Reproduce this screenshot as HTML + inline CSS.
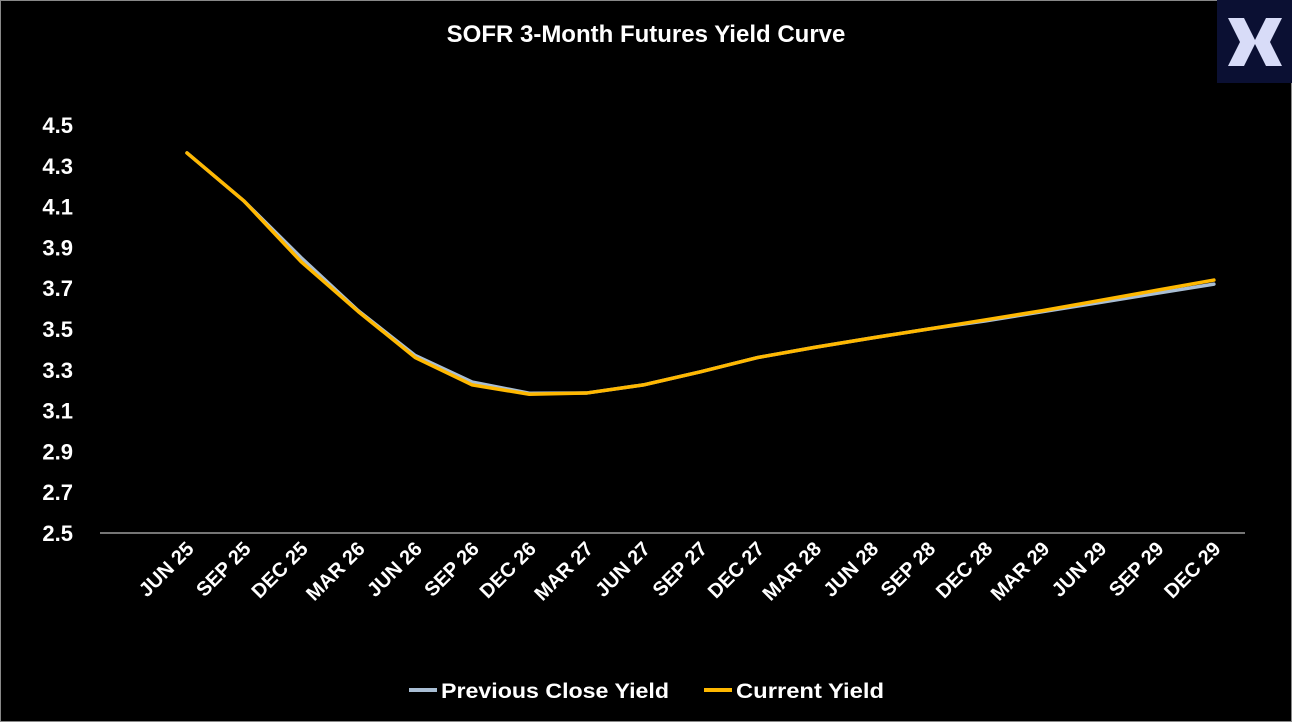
<!DOCTYPE html>
<html><head><meta charset="utf-8"><style>
body{margin:0;background:#000;}
svg{display:block;font-family:"Liberation Sans",sans-serif;font-weight:bold;}
</style></head><body>
<svg width="1292" height="722">
<rect x="0" y="0" width="1292" height="722" fill="#000"/>
<rect x="0.5" y="0.5" width="1291" height="721" fill="none" stroke="#888"/>
<text x="646" y="42" text-anchor="middle" fill="#fff" font-size="24">SOFR 3-Month Futures Yield Curve</text>
<g>
<rect x="1217" y="0" width="75" height="83" fill="#0b1033"/>
<path d="M1228 18 L1244 18 L1256 42 L1244 66 L1228 66 L1240 42 Z" fill="#d8dcf8"/>
<path d="M1282 18 L1266 18 L1254 42 L1266 66 L1282 66 L1270 42 Z" fill="#d8dcf8"/>
</g>
<g id="yaxis"></g><g id="xaxis"></g><g id="series"></g>
<g>
<line x1="409" y1="690" x2="437" y2="690" stroke="#a9bed4" stroke-width="4"/>
<text x="441" y="698" fill="#fff" font-size="21" textLength="228" lengthAdjust="spacingAndGlyphs">Previous Close Yield</text>
<line x1="704" y1="690" x2="732" y2="690" stroke="#ffb800" stroke-width="4"/>
<text x="736" y="698" fill="#fff" font-size="21" textLength="148" lengthAdjust="spacingAndGlyphs">Current Yield</text>
</g>
</svg>
<script>
const categories=["JUN 25","SEP 25","DEC 25","MAR 26","JUN 26","SEP 26","DEC 26","MAR 27","JUN 27","SEP 27","DEC 27","MAR 28","JUN 28","SEP 28","DEC 28","MAR 29","JUN 29","SEP 29","DEC 29"];
const previousYield=[4.363,4.127,3.85,3.59,3.37,3.24,3.185,3.186,3.226,3.29,3.36,3.41,3.456,3.5,3.54,3.585,3.63,3.675,3.72];
const currentYield=[4.363,4.127,3.83,3.586,3.36,3.226,3.18,3.186,3.226,3.29,3.36,3.41,3.456,3.5,3.545,3.59,3.64,3.69,3.74];
const yTicks=[2.5,2.7,2.9,3.1,3.3,3.5,3.7,3.9,4.1,4.3,4.5];
const NS="http://www.w3.org/2000/svg";
function y(v){return 533-(v-2.5)*204;}
function x(i){return 187+i*57.05;}
const ya=document.getElementById('yaxis'),xa=document.getElementById('xaxis'),se=document.getElementById('series');
yTicks.forEach(t=>{const e=document.createElementNS(NS,'text');
e.setAttribute('x',73);e.setAttribute('y',y(t)+8);e.setAttribute('text-anchor','end');e.setAttribute('fill','#fff');e.setAttribute('font-size','22');
e.textContent=t.toFixed(1);


ya.appendChild(e);});
const ax=document.createElementNS(NS,'line');
ax.setAttribute('x1',100);ax.setAttribute('x2',1245);ax.setAttribute('y1',533);ax.setAttribute('y2',533);ax.setAttribute('stroke','#bbb');ax.setAttribute('stroke-width','1.2');


xa.appendChild(ax);
categories.forEach((c,i)=>{const e=document.createElementNS(NS,'text');
const px=x(i)+8,py=550;
e.setAttribute('x',px);e.setAttribute('y',py);e.setAttribute('text-anchor','end');e.setAttribute('fill','#fff');e.setAttribute('font-size','20');
e.setAttribute('transform','rotate(-45 '+px+' '+py+')');
e.textContent=c;


xa.appendChild(e);});
function line(data,color,name){const p=document.createElementNS(NS,'polyline');
p.setAttribute('points',data.map((v,i)=>x(i)+','+y(v)).join(' '));
p.setAttribute('fill','none');p.setAttribute('stroke',color);p.setAttribute('stroke-width','3.5');p.setAttribute('stroke-linejoin','round');p.setAttribute('stroke-linecap','round');


se.appendChild(p);}
line(previousYield,'#a9bed4','previous-close-line');
line(currentYield,'#ffb800','current-yield-line');
</script>
</body></html>
